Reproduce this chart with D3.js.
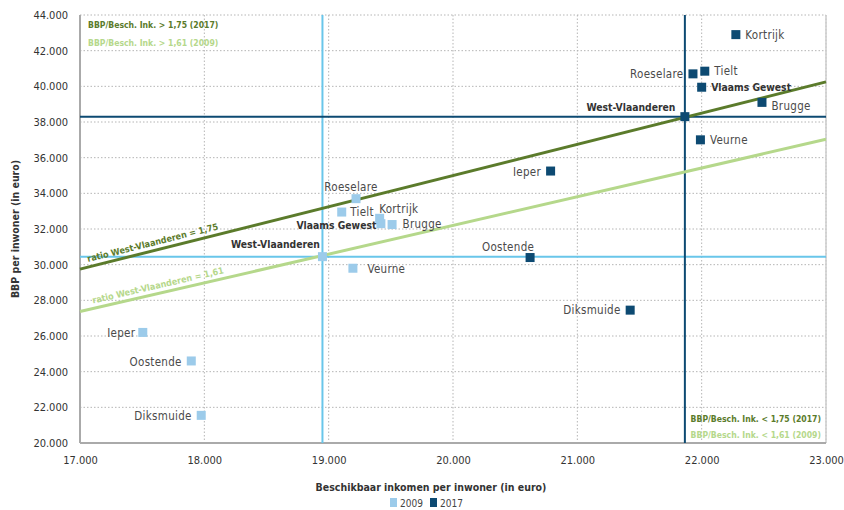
<!DOCTYPE html>
<html><head><meta charset="utf-8">
<script src="https://cdn.jsdelivr.net/npm/d3@7"></script>
<style>
body{margin:0;background:#fff;}
text{font-family:"DejaVu Sans Condensed","DejaVu Sans",sans-serif;}
</style></head>
<body><svg id="c" width="844" height="510"></svg>
<script>
// ---- data ----
const names = ["Roeselare","Tielt","Kortrijk","Vlaams Gewest","Brugge","West-Vlaanderen","Veurne","Ieper","Oostende","Diksmuide"];
const inc2009 = [19220,19105,19410,19420,19510,18950,19195,17505,17895,17975];
const gdp2009 = [33700,32950,32600,32300,32250,30450,29800,26200,24600,21550];
const inc2017 = [21930,22025,22275,22000,22485,21865,21990,20785,20620,21425];
const gdp2017 = [40700,40850,42900,39950,39100,38300,37000,35250,30400,27450];
const ratio2017 = 1.75, ratio2009 = 1.61;
const xTicks = [17000,18000,19000,20000,21000,22000,23000];
const yTicks = [20000,22000,24000,26000,28000,30000,32000,34000,36000,38000,40000,42000,44000];
const series = ["2009","2017"];

// label placement (side, dx, dy)
const place2009 = {
 "Roeselare":["top",-5,0],"Tielt":["right",-1,0],"Kortrijk":["right",-10,-9],"Vlaams Gewest":["left",5,1],
 "Brugge":["right",1,-1],"West-Vlaanderen":["left",7,-13],"Veurne":["right",5,1],"Ieper":["left",2,1],
 "Oostende":["left",0,1],"Diksmuide":["left",0,1]};
const place2017 = {
 "Roeselare":["left",0,0],"Tielt":["right",0,0],"Kortrijk":["right",0,0],"Vlaams Gewest":["right",0,0],
 "Brugge":["right",0,4],"West-Vlaanderen":["left",0,-10],"Veurne":["right",0,0],"Ieper":["left",0,1],
 "Oostende":["top",-22,1],"Diksmuide":["left",0,0]};

const C = {light:"#9ccbea", lightLine:"#69c6ea", dark:"#0d4a72", dg:"#5b7b2b", lg:"#b5d88b", txt:"#4a4a4a", grid:"#b5b5b5"};
const fmtT = v => (v/1000).toFixed(3);

const svg = d3.select("#c");
const L=80,R=826,T=15,B=443;
const x = d3.scaleLinear().domain([17000,23000]).range([L,R]);
const y = d3.scaleLinear().domain([20000,44000]).range([B,T]);

// grid
svg.append("g").selectAll("line").data(xTicks.slice(1)).join("line")
 .attr("x1",d=>x(d)).attr("x2",d=>x(d)).attr("y1",T).attr("y2",B)
 .attr("stroke",C.grid).attr("stroke-dasharray","1.5,2").attr("stroke-width",1);
svg.append("g").selectAll("line").data(yTicks.slice(1)).join("line")
 .attr("x1",L).attr("x2",R).attr("y1",d=>y(d)).attr("y2",d=>y(d))
 .attr("stroke",C.grid).attr("stroke-dasharray","1.5,2").attr("stroke-width",1);
// frame
svg.append("line").attr("x1",R).attr("x2",R).attr("y1",T).attr("y2",B).attr("stroke","#ccc").attr("stroke-width",1.5);
svg.append("line").attr("x1",L).attr("x2",L).attr("y1",T).attr("y2",B).attr("stroke","#aaa").attr("stroke-width",2);
svg.append("line").attr("x1",L).attr("x2",R).attr("y1",B).attr("y2",B).attr("stroke","#aaa").attr("stroke-width",2);

// axes tick labels
const xa = svg.append("g").attr("transform",`translate(0,${B})`).call(d3.axisBottom(x).tickValues(xTicks).tickFormat(fmtT).tickSize(0).tickPadding(13));
const ya = svg.append("g").attr("transform",`translate(${L},0)`).call(d3.axisLeft(y).tickValues(yTicks).tickFormat(fmtT).tickSize(0).tickPadding(12));
[xa,ya].forEach(a=>{a.select(".domain").remove();a.selectAll("text").attr("font-size",11).attr("fill","#333").attr("font-family","'DejaVu Sans Condensed',sans-serif");});

// reference lines
const wv = names.indexOf("West-Vlaanderen");
svg.append("line").attr("x1",x(inc2009[wv])).attr("x2",x(inc2009[wv])).attr("y1",T).attr("y2",B).attr("stroke",C.lightLine).attr("stroke-width",2);
svg.append("line").attr("x1",L).attr("x2",R).attr("y1",y(gdp2009[wv])).attr("y2",y(gdp2009[wv])).attr("stroke",C.lightLine).attr("stroke-width",2);
svg.append("line").attr("x1",x(inc2017[wv])).attr("x2",x(inc2017[wv])).attr("y1",T).attr("y2",B).attr("stroke",C.dark).attr("stroke-width",2);
svg.append("line").attr("x1",L).attr("x2",R).attr("y1",y(gdp2017[wv])).attr("y2",y(gdp2017[wv])).attr("stroke",C.dark).attr("stroke-width",2);

// ratio lines
const ratioLine = (r,col,label,x0,off)=>{
  svg.append("line").attr("x1",x(17000)).attr("y1",y(17000*r)).attr("x2",x(23000)).attr("y2",y(23000*r))
   .attr("stroke",col).attr("stroke-width",3);
  const ang = Math.atan2(y(23000*r)-y(17000*r), x(23000)-x(17000))*180/Math.PI;
  const px=x(x0), py=y(x0*r);
  svg.append("text").attr("transform",`translate(${px},${py-off}) rotate(${ang})`)
   .attr("font-size",9).attr("fill",col).attr("font-weight","bold").text(label);
};
ratioLine(ratio2017,C.dg,"ratio West-Vlaanderen = 1,75",17065,5);
ratioLine(ratio2009,C.lg,"ratio West-Vlaanderen = 1,61",17105,5);

// points + labels
const S=9;
const isBold = d => d==="Vlaams Gewest"||d==="West-Vlaanderen";
function drawSeries(xs,ys,col,place){
  const g=svg.append("g");
  g.selectAll("rect").data(names).join("rect")
   .attr("x",(d,i)=>x(xs[i])-S/2).attr("y",(d,i)=>y(ys[i])-S/2).attr("width",S).attr("height",S).attr("fill",col);
  g.selectAll("text").data(names).join("text")
   .attr("x",(d,i)=>{const p=place[d];const px=x(xs[i]);return (p[0]==="right"?px+S/2+5:p[0]==="left"?px-S/2-5:px)+p[1];})
   .attr("y",(d,i)=>{const p=place[d];const py=y(ys[i]);return (p[0]==="top"?py-S/2-3:py+4)+p[2];})
   .attr("text-anchor",d=>place[d][0]==="right"?"start":place[d][0]==="left"?"end":"middle")
   .attr("font-size",d=>isBold(d)?10.3:11.5)
   .attr("font-weight",d=>isBold(d)?"bold":"normal")
   .attr("fill",d=>isBold(d)?"#333":C.txt)
   .attr("letter-spacing",d=>isBold(d)?0:0.3)
   .text(d=>d);
}
drawSeries(inc2009,gdp2009,C.light,place2009);
drawSeries(inc2017,gdp2017,C.dark,place2017);

// corner notes
const note=(tx,ty,anchor,col,t)=>svg.append("text").attr("x",tx).attr("y",ty).attr("text-anchor",anchor)
  .attr("font-size",8.6).attr("font-weight","bold").attr("fill",col).text(t);
note(88,28,"start",C.dg,"BBP/Besch.  Ink. > 1,75 (2017)");
note(88,46,"start",C.lg,"BBP/Besch.  Ink. > 1,61 (2009)");
note(821,422,"end",C.dg,"BBP/Besch. Ink. < 1,75 (2017)");
note(821,438,"end",C.lg,"BBP/Besch. Ink. < 1,61 (2009)");

// axis titles
svg.append("text").attr("x",431).attr("y",491).attr("text-anchor","middle").attr("font-size",10.5).attr("font-weight","bold").attr("fill","#333").text("Beschikbaar  inkomen per inwoner (in euro)");
svg.append("text").attr("transform","translate(19,229) rotate(-90)").attr("text-anchor","middle").attr("font-size",10.5).attr("font-weight","bold").attr("fill","#333").text("BBP per inwoner (in euro)");

// legend
const lg = svg.append("g").attr("transform","translate(390,498)");
const lx=[0,40];
series.forEach((s,i)=>{
  lg.append("rect").attr("x",lx[i]).attr("y",0).attr("width",7).attr("height",9).attr("fill",i?C.dark:C.light);
  lg.append("text").attr("x",lx[i]+10).attr("y",9).attr("font-size",10).attr("fill","#444").text(s);
});
</script></body></html>
